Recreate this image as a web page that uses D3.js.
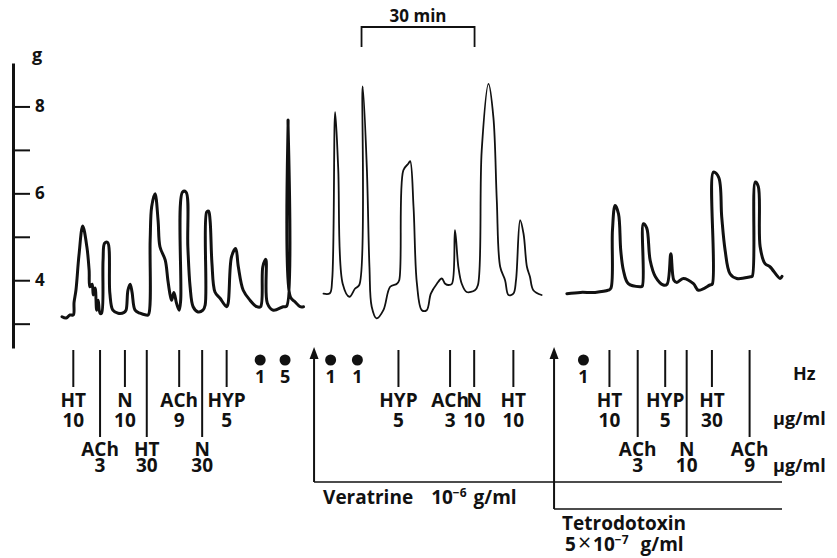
<!DOCTYPE html>
<html><head><meta charset="utf-8">
<script src="https://cdn.jsdelivr.net/npm/d3@7"></script>
<style>
body{margin:0;background:#fff}
svg{display:block}
text{font-family:"Open Sans",sans-serif;font-weight:700;fill:#111}
</style>
</head><body>
<svg id="c" width="837" height="558"></svg>
<script>
// ---------- DATA ----------
// tension trace, [time (min), tension (g)]
const trace1 = [[0,3.16],[1.1,3.13],[2.1,3.2],[3.0,3.2],[3.2,3.49],[3.7,3.77],[4.5,4.57],[5.5,5.25],[6.6,4.77],[7.2,4.23],[7.4,3.85],[8.0,3.91],[8.3,3.66],[8.8,3.82],[9.2,3.31],[9.6,3.54],[10.1,3.24],[10.5,3.24],[10.9,4.46],[11.3,4.85],[12.1,4.87],[12.7,3.7],[13.5,3.31],[14.9,3.24],[16.5,3.26],[17.0,3.31],[17.5,3.77],[18.1,3.91],[18.6,3.72],[19.4,3.31],[20.7,3.24],[22.3,3.2],[22.9,3.2],[23.4,4.92],[23.8,5.69],[24.7,5.99],[25.5,5.38],[26.0,4.77],[27.4,4.46],[28.1,4.0],[28.7,3.66],[29.1,3.54],[29.7,3.72],[30.4,3.47],[31.1,3.31],[31.5,3.54],[32.0,6.03],[32.9,6.03],[33.4,4.77],[34.0,3.85],[34.8,3.39],[36.1,3.27],[37.4,3.31],[38.0,3.43],[38.4,5.57],[38.9,5.59],[39.3,5.38],[39.8,4.39],[40.6,3.73],[41.9,3.59],[43.7,3.39],[44.1,3.47],[45.0,4.54],[46.1,4.73],[46.8,4.31],[48.1,3.77],[49.9,3.54],[51.7,3.39],[52.7,3.39],[53.3,4.31],[54.1,4.48],[54.5,3.47],[56.1,3.31],[58.7,3.39],[59.6,3.4],[60.0,7.69],[60.6,3.62],[61.9,3.5],[63.2,3.39],[64.1,3.39]];
const trace2 = [[69.4,3.69],[71.1,3.7],[71.7,4.0],[72.5,7.87],[73.3,6.6],[74.5,3.92],[76.3,3.62],[77.8,3.81],[78.9,3.89],[79.8,8.46],[80.9,6.6],[81.6,4.31],[82.2,3.39],[83.5,3.12],[85.3,3.31],[87.1,3.85],[88.9,3.92],[89.5,4.0],[90.6,6.53],[91.9,6.68],[92.4,6.74],[93.3,5.69],[94.2,3.92],[95.5,3.31],[96.8,3.31],[97.9,3.69],[99.5,3.92],[100.8,4.04],[101.7,3.92],[102.6,3.89],[103.5,3.92],[104.3,5.15],[105.2,4.31],[106.1,3.92],[107.4,3.73],[109.6,3.77],[110.4,3.89],[111.4,6.99],[113.2,8.52],[114.5,7.75],[115.4,5.84],[116.3,4.31],[117.6,4.0],[118.5,3.66],[119.8,3.69],[120.5,4.0],[121.6,5.38],[122.5,5.07],[123.4,4.31],[124.2,4.08],[125.1,3.77],[127.3,3.66]];
const trace3 = [[134.0,3.69],[137.6,3.72],[141.5,3.72],[145.0,3.77],[145.7,3.82],[146.1,5.15],[146.8,5.72],[147.7,5.53],[148.3,4.69],[149.0,4.23],[150.3,3.92],[153.4,3.85],[154.0,3.86],[154.3,5.3],[155.2,5.2],[156.1,4.46],[157.5,4.08],[159.6,3.89],[160.6,3.91],[161.6,4.61],[162.4,4.0],[163.2,3.95],[164.9,4.04],[167.6,3.92],[168.9,3.77],[172.0,3.89],[172.6,3.91],[172.9,6.49],[174.3,6.37],[175.1,5.46],[176.0,4.69],[177.3,4.15],[179.1,4.04],[182.7,4.08],[183.2,4.09],[184.0,6.26],[184.8,6.16],[185.3,4.77],[186.6,4.38],[187.9,4.31],[190.6,4.04],[191.1,4.09]];
const traces = [trace1, trace2, trace3];

// drug additions: time (min), drug, dose (µg/ml), label row
const drugs = [
  {t:3.0, drug:"HT", dose:"10", row:1},
  {t:10.1, drug:"ACh", dose:"3", row:2},
  {t:16.7, drug:"N", dose:"10", row:1},
  {t:22.5, drug:"HT", dose:"30", row:2},
  {t:31.1, drug:"ACh", dose:"9", row:1},
  {t:37.2, drug:"N", dose:"30", row:2},
  {t:43.7, drug:"HYP", dose:"5", row:1},
  {t:89.3, drug:"HYP", dose:"5", row:1},
  {t:103.0, drug:"ACh", dose:"3", row:1},
  {t:109.4, drug:"N", dose:"10", row:1},
  {t:119.8, drug:"HT", dose:"10", row:1},
  {t:145.3, drug:"HT", dose:"10", row:1},
  {t:152.8, drug:"ACh", dose:"3", row:2},
  {t:160.1, drug:"HYP", dose:"5", row:1},
  {t:165.8, drug:"N", dose:"10", row:2},
  {t:172.5, drug:"HT", dose:"30", row:1},
  {t:182.5, drug:"ACh", dose:"9", row:2}
];
// field stimulation: time (min), frequency (Hz)
const fieldStim = [{t:52.6, hz:"1"},{t:59.2, hz:"5"},{t:71.3, hz:"1"},{t:78.4, hz:"1"},{t:138.4, hz:"1"}];
// treatments added to bath
const treatments = [
  {t:66.9, name:"Veratrine", mant:"", base:"10", exp:"−6", unit:"g/ml"},
  {t:130.6, name:"Tetrodotoxin", mant:"5", base:"10", exp:"−7", unit:"g/ml"}
];
const yTicks = [3,4,5,6,7,8];
const yTickLabels = ["","4","","6","","8"];
const yTitle = "g";
const scaleBar = {start:79.5, length:30, label:"30 min"};
const units = ["Hz","µg/ml","µg/ml"];

// ---------- CHART ----------
const svg = d3.select("#c");
const x = d3.scaleLinear().domain([0,191.1]).range([62,782]);
const y = d3.scaleLinear().domain([2.44,9.0]).range([348,63]);

// y axis
const yAxis = d3.axisRight(y).tickValues(yTicks).tickSize(17).tickSizeOuter(0)
  .tickFormat((d,i)=>yTickLabels[i]);
const ga = svg.append("g").attr("transform","translate(13,0)").call(yAxis);
ga.select(".domain").attr("stroke","#111").attr("stroke-width",3);
ga.selectAll(".tick line").attr("stroke","#111").attr("stroke-width",2);
ga.selectAll(".tick text").attr("x",22).attr("font-size",17).attr("font-weight",700)
  .attr("font-family","Open Sans, sans-serif").attr("fill","#111");
svg.append("text").attr("x",32).attr("y",61).attr("font-size",18).text(yTitle);

// traces
const line = d3.line().x(d=>x(d[0])).y(d=>y(d[1])).curve(d3.curveCatmullRom.alpha(0.5));
const widths = [3,1.8,3];
svg.selectAll("path.trace").data(traces).join("path").attr("class","trace")
  .attr("d",line).attr("fill","none").attr("stroke","#111")
  .attr("stroke-width",(d,i)=>widths[i]).attr("stroke-linejoin","round").attr("stroke-linecap","round");

// scale bar
const sb0 = x(scaleBar.start), sb1 = x(scaleBar.start+scaleBar.length);
svg.append("path").attr("d",`M${sb0},47V27H${sb1}V47`).attr("fill","none").attr("stroke","#111").attr("stroke-width",1.8);
svg.append("text").attr("x",(sb0+sb1)/2).attr("y",22).attr("text-anchor","middle").attr("font-size",17).text(scaleBar.label);

// drug marks
const rowLineEnd = {1:387, 2:437};
const rowLabelY = {1:407, 2:456};
const rowGap = {1:20, 2:16};
const gd = svg.append("g");
drugs.forEach(d=>{
  const xx = x(d.t);
  gd.append("line").attr("x1",xx).attr("x2",xx).attr("y1",350).attr("y2",rowLineEnd[d.row])
    .attr("stroke","#111").attr("stroke-width",2);
  const t = gd.append("text").attr("x",xx).attr("y",rowLabelY[d.row]).attr("text-anchor","middle").attr("font-size",19);
  t.append("tspan").attr("x",xx).text(d.drug);
  t.append("tspan").attr("x",xx).attr("dy",rowGap[d.row]).text(d.dose);
});
// field stimulation
fieldStim.forEach(d=>{
  const xx = x(d.t);
  gd.append("circle").attr("cx",xx).attr("cy",360).attr("r",5.5).attr("fill","#111");
  gd.append("text").attr("x",xx).attr("y",383).attr("text-anchor","middle").attr("font-size",18).text(d.hz);
});
// units column
const tu = svg.append("text").attr("x",773).attr("y",380).attr("font-size",18);
tu.append("tspan").attr("x",793).text(units[0]);
tu.append("tspan").attr("x",773).attr("dy",45).text(units[1]);
tu.append("tspan").attr("x",773).attr("dy",47).text(units[2]);

// treatments
const tY = [482,509];
treatments.forEach((d,i)=>{
  const xx = x(d.t);
  svg.append("path").attr("d",`M${xx},${tY[i]}V356`).attr("stroke","#111").attr("stroke-width",2).attr("fill","none");
  svg.append("path").attr("d",`M${xx-4.5},359L${xx},347L${xx+4.5},359Z`).attr("fill","#111");
  svg.append("line").attr("x1",xx).attr("x2",x.range()[1]).attr("y1",tY[i]).attr("y2",tY[i]).attr("stroke","#111").attr("stroke-width",1.6);
  if(i===0){
    const t = svg.append("text").attr("x",xx+9).attr("y",504).attr("font-size",19);
    t.append("tspan").text(d.name);
    t.append("tspan").attr("dx",18).text(d.base);
    t.append("tspan").attr("dy",-7).attr("font-size",12).text(d.exp);
    t.append("tspan").attr("dy",7).attr("dx",7).text(d.unit);
  } else {
    const t = svg.append("text").attr("x",xx+8).attr("y",530).attr("font-size",19);
    t.append("tspan").attr("x",xx+8).text(d.name);
    t.append("tspan").attr("x",xx+11).attr("dy",21).text(d.mant);
    t.append("tspan").attr("dx",2).attr("font-weight",400).attr("font-size",23).text("×");
    t.append("tspan").attr("dx",2).text(d.base);
    t.append("tspan").attr("dy",-7).attr("font-size",12).text(d.exp);
    t.append("tspan").attr("dy",7).attr("dx",12).text(d.unit);
  }
});
</script>
</body></html>
